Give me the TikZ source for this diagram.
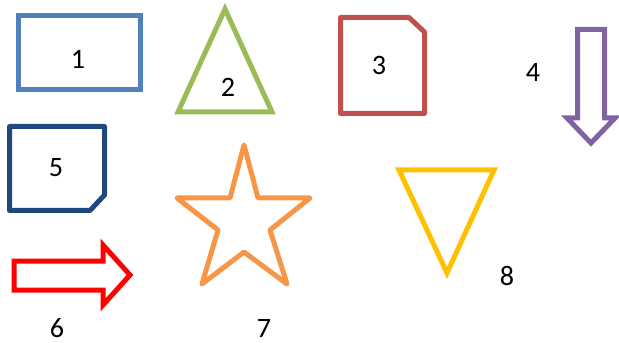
\documentclass[tikz,border=0pt]{standalone}
\usepackage{fontspec}
\setmainfont{Carlito}
\usepackage{xcolor}
\usepackage{tikz}

\definecolor{accblue}{HTML}{4F81BD}
\definecolor{accgreen}{HTML}{9BBB59}
\definecolor{accred}{HTML}{C0504D}
\definecolor{accpurple}{HTML}{8064A2}
\definecolor{accnavy}{HTML}{1F497D}
\definecolor{accorange}{HTML}{F79646}
\definecolor{accyellow}{HTML}{FFC000}

\begin{document}
\begin{tikzpicture}[
    x=0.03cm, y=-0.03cm,
    outline/.style={line width=0.15cm, line join=miter},
    soft/.style={outline, line join=round},
    lbl/.style={font=\fontsize{24}{28}\selectfont, inner sep=0pt},
]
\useasboundingbox (0,0) rectangle (619,343);

% top row
\draw[outline, accblue] (18.5,15.5) rectangle (140.5,89.5);
\draw[outline, accgreen] (225,9) -- (272,112) -- (178,112) -- cycle;
\draw[soft, accred] (340.5,17.5) -- (409,17.5) -- (424.5,32) -- (424.5,113.5) -- (340.5,113.5) -- cycle;
\draw[outline, accpurple] (577.5,29.5) -- (604.5,29.5) -- (604.5,118) -- (615,118)
    -- (591,143) -- (567,118) -- (577.5,118) -- cycle;

% bottom rows
\draw[soft, accnavy] (9.5,126.5) -- (104.5,126.5) -- (104.5,195) -- (90,210.5) -- (9.5,210.5) -- cycle;
\draw[outline, red] (14,261) -- (103,261) -- (103,245) -- (130,275) -- (103,305) -- (103,290) -- (14,290) -- cycle;
\draw[soft, accorange] (244,145) -- (258,198) -- (310,198) -- (270,230) -- (287,284)
    -- (244,252) -- (202,284) -- (218,230) -- (177,198) -- (230,198) -- cycle;
\draw[outline, accyellow] (399,170) -- (494,170) -- (447,273) -- cycle;

\node[lbl] (n1) at (78,59) {1};
\node[lbl] (n2) at (228,87) {2};
\node[lbl] (n3) at (379,65) {3};
\node[lbl] (n4) at (533,72) {4};
\node[lbl] (n5) at (56,168) {5};
\node[lbl] (n6) at (57,328) {6};
\node[lbl] (n7) at (264,328) {7};
\node[lbl] (n8) at (507,276) {8};
\end{tikzpicture}
\end{document}
